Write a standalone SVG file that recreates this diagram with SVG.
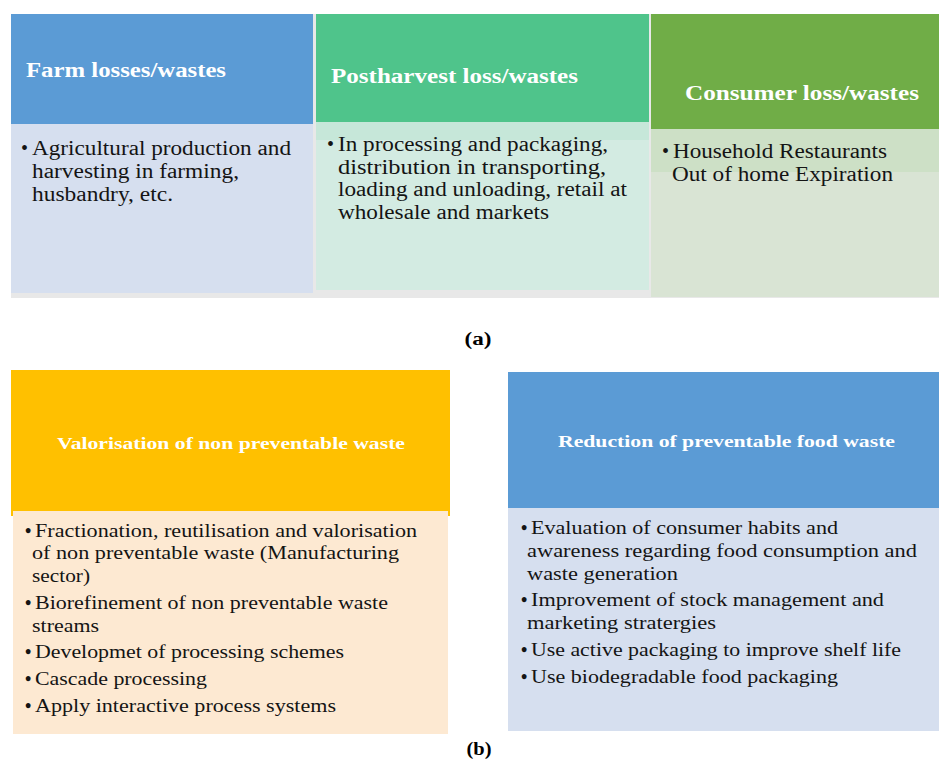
<svg xmlns="http://www.w3.org/2000/svg" width="939" height="760" viewBox="0 0 939 760">
<style>
.t{font-family:"Liberation Serif","DejaVu Serif",serif;font-weight:bold;fill:#ffffff;font-size:20px}
.tb{font-family:"Liberation Serif","DejaVu Serif",serif;font-weight:bold;fill:#ffffff;font-size:17px}
.b{font-family:"Liberation Serif","DejaVu Serif",serif;fill:#141414;font-size:20px}
.s{font-family:"Liberation Serif","DejaVu Serif",serif;fill:#141414;font-size:18px}
.d{font-weight:bold}
.cap{font-family:"Liberation Serif","DejaVu Serif",serif;font-weight:bold;fill:#000;font-size:18px;text-anchor:middle}
</style>
<rect x="0" y="0" width="939" height="760" fill="#ffffff"/>
<g id="panel-a">
<rect x="11" y="14" width="928" height="284" fill="#e8e8e8"/>
<g id="farm">
<rect x="11" y="14" width="302" height="110" fill="#5b9bd5"/>
<rect x="11" y="124" width="302" height="169" fill="#d6dfef"/>
<text class="t" x="26" y="77" textLength="200" lengthAdjust="spacingAndGlyphs">Farm losses/wastes</text>
<text class="b" x="21" y="155">•</text>
<text class="b" x="32" y="155" textLength="259" lengthAdjust="spacingAndGlyphs">Agricultural production and</text>
<text class="b" x="32" y="178" textLength="207" lengthAdjust="spacingAndGlyphs">harvesting in farming,</text>
<text class="b" x="32" y="201" textLength="141" lengthAdjust="spacingAndGlyphs">husbandry, etc.</text>
</g>
<g id="postharvest">
<rect x="316" y="14" width="333" height="108" fill="#4fc48b"/>
<rect x="316" y="122" width="333" height="18" fill="#c6e7d9"/>
<rect x="316" y="140" width="333" height="150" fill="#d3ebe2"/>
<text class="t" x="331" y="83" textLength="247" lengthAdjust="spacingAndGlyphs">Postharvest loss/wastes</text>
<text class="b" x="327" y="151">•</text>
<text class="b" x="338" y="151" textLength="270" lengthAdjust="spacingAndGlyphs">In processing and packaging,</text>
<text class="b" x="338" y="174" textLength="268" lengthAdjust="spacingAndGlyphs">distribution in transporting,</text>
<text class="b" x="338" y="196" textLength="289" lengthAdjust="spacingAndGlyphs">loading and unloading, retail at</text>
<text class="b" x="338" y="219" textLength="211" lengthAdjust="spacingAndGlyphs">wholesale and markets</text>
</g>
<g id="consumer">
<rect x="651" y="14" width="288" height="115" fill="#70ad47"/>
<rect x="651" y="129" width="288" height="43" fill="#cde0c6"/>
<rect x="651" y="172" width="288" height="125" fill="#d9e4d4"/>
<text class="t" x="685" y="100" textLength="234" lengthAdjust="spacingAndGlyphs">Consumer loss/wastes</text>
<text class="b" x="662" y="158">•</text>
<text class="b" x="673" y="158" textLength="214" lengthAdjust="spacingAndGlyphs">Household Restaurants</text>
<text class="b" x="672" y="181" textLength="221" lengthAdjust="spacingAndGlyphs">Out of home Expiration</text>
</g>
<text class="cap" x="478" y="345" textLength="27" lengthAdjust="spacingAndGlyphs">(a)</text>
</g>
<g id="panel-b">
<g id="valorisation">
<rect x="11" y="370" width="439" height="146" fill="#ffc000"/>
<rect x="13" y="511" width="435" height="223" fill="#fde9d2"/>
<text class="tb" x="57" y="449" textLength="348" lengthAdjust="spacingAndGlyphs">Valorisation of non preventable waste</text>
<text class="s d" x="25" y="537">•</text>
<text class="s" x="35" y="537" textLength="382" lengthAdjust="spacingAndGlyphs">Fractionation, reutilisation and valorisation</text>
<text class="s" x="32" y="559" textLength="367" lengthAdjust="spacingAndGlyphs">of non preventable waste (Manufacturing</text>
<text class="s" x="32" y="582" textLength="58" lengthAdjust="spacingAndGlyphs">sector)</text>
<text class="s d" x="25" y="609">•</text>
<text class="s" x="35" y="609" textLength="353" lengthAdjust="spacingAndGlyphs">Biorefinement of non preventable waste</text>
<text class="s" x="32" y="632" textLength="67" lengthAdjust="spacingAndGlyphs">streams</text>
<text class="s d" x="25" y="658">•</text>
<text class="s" x="35" y="658" textLength="309" lengthAdjust="spacingAndGlyphs">Developmet of processing schemes</text>
<text class="s d" x="25" y="685">•</text>
<text class="s" x="35" y="685" textLength="172" lengthAdjust="spacingAndGlyphs">Cascade processing</text>
<text class="s d" x="25" y="712">•</text>
<text class="s" x="35" y="712" textLength="301" lengthAdjust="spacingAndGlyphs">Apply interactive process systems</text>
</g>
<g id="reduction">
<rect x="508" y="372" width="431" height="136" fill="#5b9bd5"/>
<rect x="508" y="508" width="431" height="223" fill="#d6dfef"/>
<text class="tb" x="558" y="447" textLength="337" lengthAdjust="spacingAndGlyphs">Reduction of preventable food waste</text>
<text class="s d" x="521" y="534">•</text>
<text class="s" x="531" y="534" textLength="307" lengthAdjust="spacingAndGlyphs">Evaluation of consumer habits and</text>
<text class="s" x="527" y="557" textLength="390" lengthAdjust="spacingAndGlyphs">awareness regarding food consumption and</text>
<text class="s" x="527" y="580" textLength="151" lengthAdjust="spacingAndGlyphs">waste generation</text>
<text class="s d" x="521" y="606">•</text>
<text class="s" x="531" y="606" textLength="353" lengthAdjust="spacingAndGlyphs">Improvement of stock management and</text>
<text class="s" x="527" y="629" textLength="189" lengthAdjust="spacingAndGlyphs">marketing stratergies</text>
<text class="s d" x="521" y="656">•</text>
<text class="s" x="531" y="656" textLength="370" lengthAdjust="spacingAndGlyphs">Use active packaging to improve shelf life</text>
<text class="s d" x="521" y="683">•</text>
<text class="s" x="531" y="683" textLength="307" lengthAdjust="spacingAndGlyphs">Use biodegradable food packaging</text>
</g>
<text class="cap" x="479" y="755" textLength="25" lengthAdjust="spacingAndGlyphs">(b)</text>
</g>
<g id="connectors"/>
</svg>
